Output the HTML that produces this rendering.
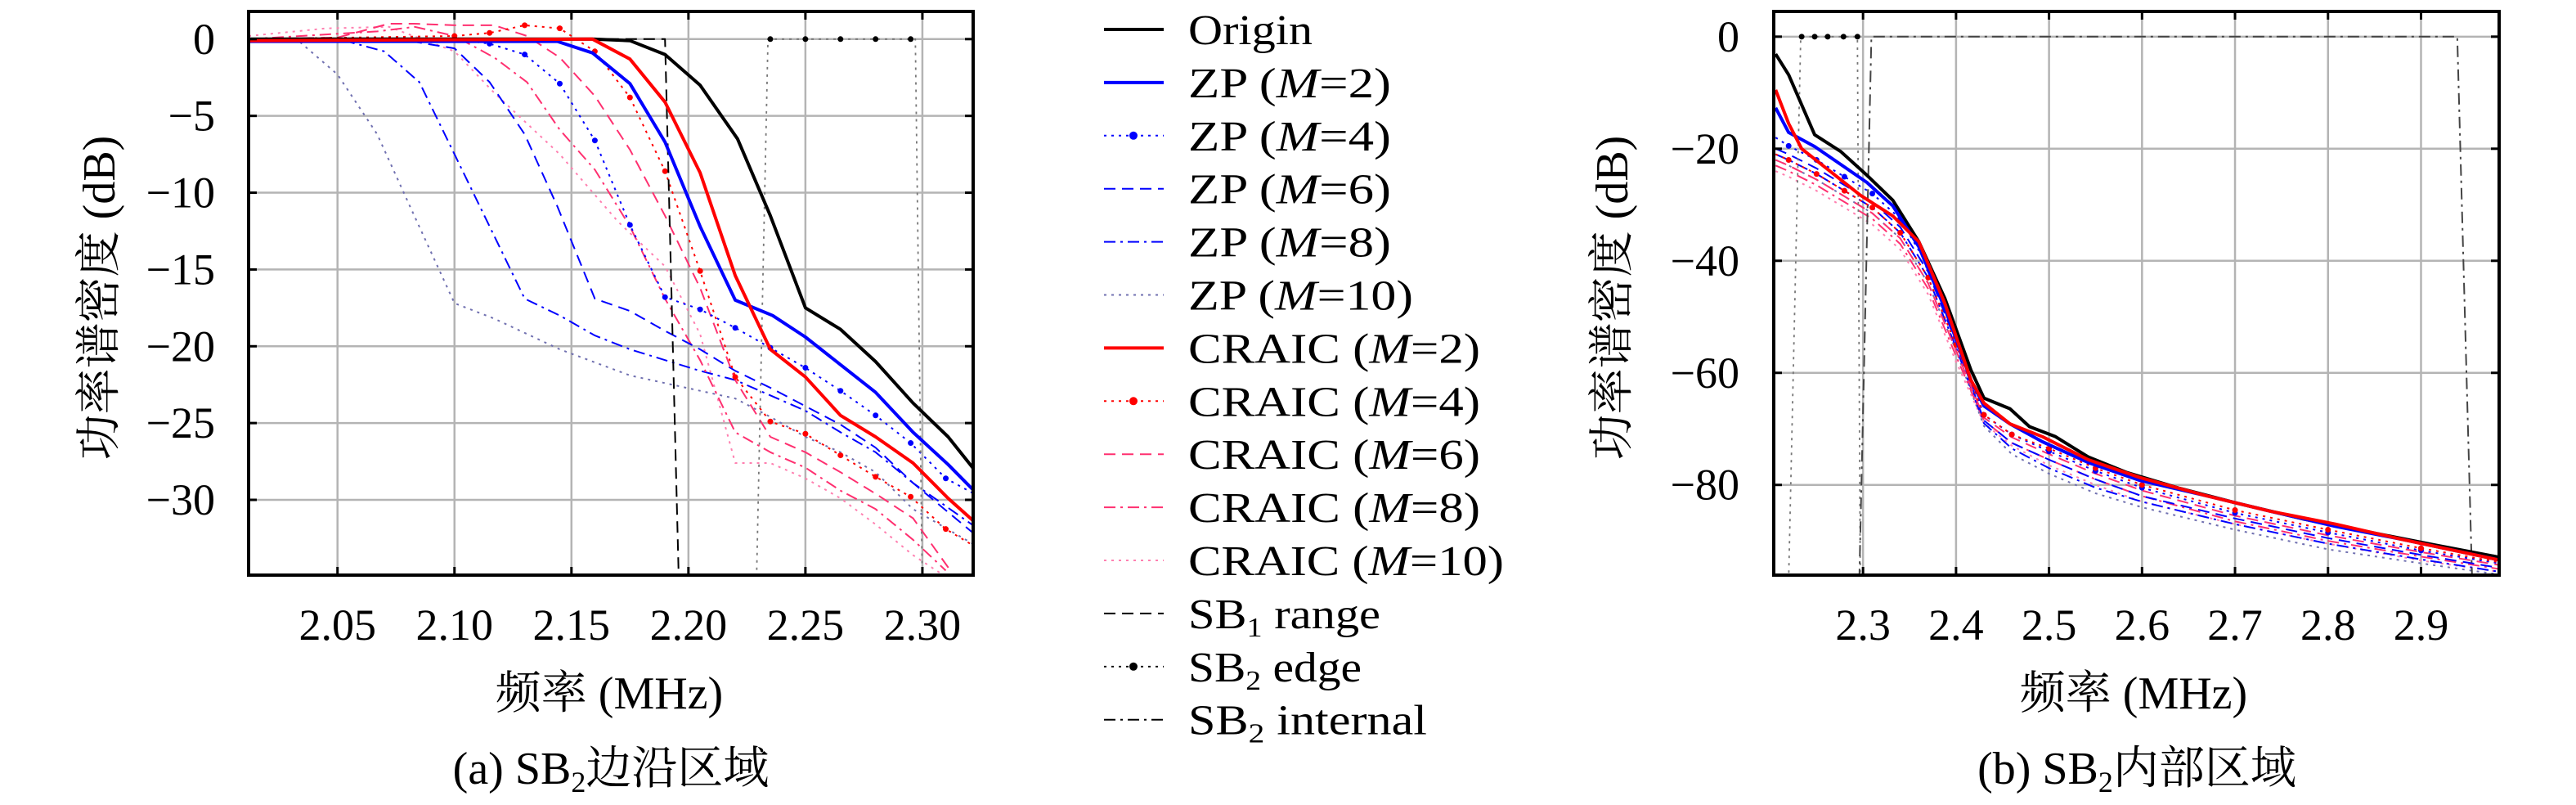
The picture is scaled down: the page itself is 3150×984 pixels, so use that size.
<!DOCTYPE html>
<html><head><meta charset="utf-8">
<style>
html,body{margin:0;padding:0;background:#fff;}
svg{display:block;}
svg text{font-family:"Liberation Serif","DejaVu Serif","Noto Serif CJK SC","Noto Sans CJK SC",serif;}
</style></head>
<body>
<svg id="fig" width="3150" height="984" viewBox="0 0 3150 984" xmlns="http://www.w3.org/2000/svg">
<defs>
<clipPath id="clipA"><rect x="304" y="14" width="886" height="689"/></clipPath>
<clipPath id="clipB"><rect x="2169" y="14" width="887" height="689"/></clipPath>
</defs>
<g id="panelA"></g>
<g id="panelB"></g>
<g id="legend"></g>
</svg>
<script>
const aOriginX=[2.012,2.159,2.175,2.19,2.205,2.221,2.235,2.25,2.265,2.28,2.296,2.311,2.322];
const aOriginY=[0,0,-0.1,-1,-3,-6.5,-11.5,-17.5,-18.9,-21,-23.7,-25.9,-28];
const aZP2X=[2.012,2.144,2.159,2.175,2.19,2.205,2.22,2.236,2.25,2.265,2.28,2.296,2.311,2.322];
const aZP2Y=[-0.15,-0.15,-0.9,-2.9,-6.7,-12.2,-17,-18,-19.4,-21.2,-23,-25.6,-27.7,-29.4];
const aCR2X=[2.012,2.159,2.175,2.19,2.205,2.22,2.235,2.25,2.265,2.28,2.296,2.311,2.322];
const aCR2Y=[-0.1,0,-1.3,-4.1,-8.7,-15.4,-20.2,-22,-24.5,-25.9,-27.6,-29.9,-31.4];
const aZP4X=[2.012,2.1,2.115,2.13,2.145,2.16,2.175,2.19,2.205,2.22,2.235,2.25,2.265,2.28,2.295,2.31,2.322];
const aZP4Y=[0,0,-0.3,-1,-2.9,-6.6,-12.1,-16.8,-17.6,-18.8,-20.1,-21.4,-22.9,-24.5,-26.3,-28.6,-29.6];
const aCR4X=[2.012,2.1,2.115,2.13,2.145,2.16,2.175,2.19,2.205,2.22,2.235,2.25,2.265,2.28,2.295,2.31,2.322];
const aCR4Y=[0,0.2,0.4,0.9,0.7,-0.8,-3.8,-8.6,-15.1,-22,-24.9,-25.7,-27.1,-28.5,-29.8,-31.9,-33];
const aZP6X=[2.012,2.08,2.1,2.115,2.13,2.144,2.16,2.175,2.19,2.205,2.22,2.235,2.25,2.265,2.28,2.296,2.322];
const aZP6Y=[0,-0.1,-0.6,-2.8,-6.2,-10.9,-16.9,-17.7,-19,-20.2,-21.6,-22.7,-23.9,-25.1,-26.6,-28.9,-32.2];
const aZP8X=[2.012,2.053,2.07,2.085,2.1,2.115,2.13,2.145,2.16,2.175,2.19,2.205,2.22,2.235,2.25,2.265,2.28,2.296,2.322];
const aZP8Y=[0,-0.1,-0.8,-2.8,-7.5,-12.2,-16.9,-18,-19.3,-20.2,-20.9,-21.6,-22.2,-23.2,-24.2,-25.6,-26.9,-28.9,-31.7];
const aZP10X=[2.012,2.034,2.05,2.067,2.081,2.1,2.117,2.145,2.175,2.205,2.22,2.235,2.25,2.265,2.28,2.296,2.322];
const aZP10Y=[0,-0.2,-2.3,-6.2,-10.9,-17.2,-18.2,-20.2,-21.9,-22.9,-23.4,-24.6,-25.9,-26.9,-28.2,-30.6,-32.9];
const aCR6X=[2.012,2.05,2.072,2.083,2.1,2.117,2.131,2.145,2.16,2.175,2.19,2.205,2.22,2.235,2.25,2.265,2.28,2.296,2.312];
const aCR6Y=[0,0.1,1,1,0.9,0.9,0.2,-1.2,-3.7,-7.2,-11.5,-16.2,-22.2,-25.9,-26.9,-28.2,-29.6,-31.2,-34.6];
const aCR8X=[2.012,2.067,2.083,2.1,2.117,2.131,2.145,2.16,2.175,2.19,2.205,2.22,2.235,2.25,2.265,2.28,2.296,2.31];
const aCR8Y=[0,0.5,0.8,0.2,-1.2,-2.8,-5.9,-8.5,-12.2,-16.9,-20.9,-25.6,-26.9,-27.9,-29.4,-30.6,-32.6,-34.6];
const aCR10X=[2.012,2.045,2.072,2.1,2.117,2.145,2.17,2.19,2.205,2.22,2.235,2.25,2.265,2.28,2.296,2.31];
const aCR10Y=[0.2,0.7,0.8,-0.8,-3.5,-7.5,-11.9,-14.8,-19.2,-27.6,-27.6,-28.6,-29.9,-31.6,-33.6,-35];
const aSB1X=[2.15,2.19,2.196];
const aSB1Y=[0,0,-36];
const aEdgeX=[2.229,2.234,2.297,2.300];
const aEdgeY=[-36,0,0,-36];
const aEdgeDotX=[2.235,2.25,2.265,2.28,2.295];
const aXTicks=[2.05,2.10,2.15,2.20,2.25,2.30];
const aXTickLabels=["2.05","2.10","2.15","2.20","2.25","2.30"];
const aYTicks=[0,-5,-10,-15,-20,-25,-30];
const aYTickLabels=["0","−5","−10","−15","−20","−25","−30"];
const bOriginX=[2.206,2.22,2.248,2.276,2.304,2.332,2.36,2.388,2.416,2.43,2.458,2.479,2.507,2.542,2.584,2.64,2.703,2.774,2.844,2.914,2.984];
const bOriginY=[-3.1,-6.8,-17.5,-20.5,-24.7,-29.2,-36.6,-46.7,-59.5,-64.5,-66.4,-69.6,-71.4,-75,-77.8,-80.6,-83.3,-86.1,-88.4,-90.7,-92.9];
const bZP2X=[2.206,2.22,2.248,2.276,2.304,2.332,2.36,2.388,2.416,2.43,2.458,2.493,2.542,2.598,2.668,2.738,2.808,2.879,2.984];
const bZP2Y=[-12.7,-17.1,-19.6,-22.8,-26,-30.2,-37.5,-48.5,-61.3,-65.9,-69.1,-72.3,-76,-79.2,-81.9,-84.7,-87.4,-89.7,-93.4];
const bCR2X=[2.206,2.22,2.234,2.262,2.297,2.332,2.36,2.388,2.416,2.43,2.458,2.493,2.542,2.598,2.668,2.738,2.808,2.879,2.984];
const bCR2Y=[-9.5,-15.5,-20,-23.7,-28.3,-32,-36.6,-47.6,-61.3,-65.4,-69.1,-71.4,-75.5,-78.7,-81.9,-84.7,-87,-89.7,-93.4];
const bGridX=[2.206,2.22,2.25,2.28,2.31,2.34,2.37,2.40,2.43,2.46,2.5,2.55,2.6,2.7,2.8,2.9,2.984];
const bZP4Y=[-18,-19.5,-22,-25,-28,-32.5,-41,-53.5,-67.5,-71,-74,-77.5,-80.5,-85,-88.5,-91.7,-94];
const bZP6Y=[-20,-21,-23.5,-26.5,-29.5,-34,-42,-54.5,-68.5,-72.5,-75.5,-79,-82,-86,-89.5,-92.5,-94.8];
const bZP8Y=[-21,-22,-24.5,-27.5,-30.5,-35,-43,-55.5,-69,-73.5,-77,-80.5,-83,-87,-90.5,-93.3,-95.5];
const bZP10Y=[-22,-23,-25.5,-28.5,-31.5,-36,-44,-56,-69.5,-74.5,-78,-81.5,-84,-88,-91.5,-94,-96];
const bCR4Y=[-21,-22,-24.5,-27.5,-30.5,-35,-43,-55,-67.5,-71,-73.5,-77,-80,-84.5,-88,-91.3,-93.8];
const bCR6Y=[-22,-23,-25.5,-28.5,-31.5,-36,-44,-56,-68,-71.5,-74.5,-78,-81,-85.5,-89,-92,-94.3];
const bCR8Y=[-23,-24,-26.5,-29.5,-32.5,-37,-45,-57,-68.5,-72.5,-75.5,-79,-82,-86.5,-90,-92.8,-95];
const bCR10Y=[-24,-25,-27.5,-30.5,-33.5,-38,-46,-58,-69,-73,-76.5,-80,-83,-87,-90.5,-93.5,-95.5];
const bEdgeX=[2.22,2.233,2.294,2.297];
const bEdgeY=[-97,0,0,-97];
const bEdgeDotX=[2.234,2.248,2.262,2.279,2.294];
const bIntX=[2.296,2.309,2.939,2.955];
const bIntY=[-97,0,0,-97];
const bXTicks=[2.3,2.4,2.5,2.6,2.7,2.8,2.9];
const bXTickLabels=["2.3","2.4","2.5","2.6","2.7","2.8","2.9"];
const bYTicks=[0,-20,-40,-60,-80];
const bYTickLabels=["0","−20","−40","−60","−80"];
const legendLabels=["Origin","ZP (M=2)","ZP (M=4)","ZP (M=6)","ZP (M=8)","ZP (M=10)","CRAIC (M=2)","CRAIC (M=4)","CRAIC (M=6)","CRAIC (M=8)","CRAIC (M=10)","SB1 range","SB2 edge","SB2 internal"];

const NS="http://www.w3.org/2000/svg";
const FONT='"Liberation Serif","DejaVu Serif","Noto Serif CJK SC","Noto Sans CJK SC",serif';
function mk(tag,attrs,parent){const e=document.createElementNS(NS,tag);for(const k in attrs)e.setAttribute(k,attrs[k]);if(tag==='text')e.style.fontFamily=FONT;parent.appendChild(e);return e;}
function scale(d0,d1,r0,r1){return v=>r0+(v-d0)*(r1-r0)/(d1-d0);}

const BLUE="#0000ff",RED="#ff0000",PINK="#ff3070",GB="#7070b0",LPINK="#ff80b0";
const styles={
 origin:{c:"#000",w:4,d:""},zp2:{c:BLUE,w:4,d:""},zp4:{c:BLUE,w:2,d:"3,6"},zp6:{c:BLUE,w:2,d:"14,8"},
 zp8:{c:BLUE,w:2,d:"14,6,3,6"},zp10:{c:GB,w:2,d:"3,6"},cr2:{c:RED,w:4,d:""},cr4:{c:RED,w:2,d:"3,6"},
 cr6:{c:PINK,w:2,d:"14,8"},cr8:{c:PINK,w:2,d:"14,6,3,6"},cr10:{c:LPINK,w:2,d:"3,6"},
 sb1:{c:"#000",w:2,d:"14,8"},edge:{c:"#777",w:1.8,d:"3,6"},int:{c:"#444",w:2,d:"14,6,3,6"}
};

function drawPanel(g,o){
 const sx=scale(o.xmin,o.xmax,o.L,o.R), sy=scale(o.ymin,o.ymax,o.B,o.T);
 const grid=mk('g',{},g);
  
 o.xt.forEach(v=>{mk('line',{x1:sx(v),x2:sx(v),y1:o.T,y2:o.B,stroke:"#b4b4b4","stroke-width":2.5},grid);});
 o.yt.forEach(v=>{mk('line',{x1:o.L,x2:o.R,y1:sy(v),y2:sy(v),stroke:"#b4b4b4","stroke-width":2.5},grid);});
 const plot=mk('g',{"clip-path":o.clip},g);
  
 o.series.forEach(s=>{
  const st=styles[s.k];
  const pts=s.x.map((x,i)=>sx(x).toFixed(1)+","+sy(s.y[i]).toFixed(1)).join(" ");
  const p=mk('polyline',{points:pts,fill:"none",stroke:st.c,"stroke-width":st.w,"stroke-dasharray":st.d,"stroke-linejoin":"round"},plot);
  
  
  if(s.dots){s.x.forEach((x,i)=>{if(i>0&&i<s.x.length-1){const c=mk('circle',{cx:sx(x),cy:sy(s.y[i]),r:3.5,fill:st.c},plot);
   
   }});}
  if(s.dotX){s.dotX.forEach(x=>{const c=mk('circle',{cx:sx(x),cy:sy(0),r:3.5,fill:"#000"},plot);
   
   });}
 });
 const fr=mk('rect',{x:o.L,y:o.T,width:o.R-o.L,height:o.B-o.T,fill:"none",stroke:"#000","stroke-width":4},g);
  
 o.xt.forEach((v,i)=>{
  mk('line',{x1:sx(v),x2:sx(v),y1:o.B,y2:o.B-10,stroke:"#000","stroke-width":3},g);
  mk('line',{x1:sx(v),x2:sx(v),y1:o.T,y2:o.T+10,stroke:"#000","stroke-width":3},g);
  const t=mk('text',{x:sx(v),y:782,"text-anchor":"middle","font-size":54},g);t.textContent=o.xl[i];
   
 });
 o.yt.forEach((v,i)=>{
  mk('line',{x1:o.L,x2:o.L+10,y1:sy(v),y2:sy(v),stroke:"#000","stroke-width":3},g);
  mk('line',{x1:o.R,x2:o.R-10,y1:sy(v),y2:sy(v),stroke:"#000","stroke-width":3},g);
  const t=mk('text',{x:o.yLabX,y:sy(v)+18,"text-anchor":"end","font-size":54},g);t.textContent=o.yl[i];
   
 });
 const xt=mk('text',{x:o.xTitleX,y:866,"text-anchor":"middle","font-size":56},g);xt.textContent="频率 (MHz)";
  
 const yt=mk('text',{x:0,y:0,"text-anchor":"middle","font-size":56,transform:`translate(${o.yTitleX},364) rotate(-90)`},g);yt.textContent="功率谱密度 (dB)";
  
 const cap=mk('text',{x:o.capX,y:958,"text-anchor":"middle","font-size":56},g);
 cap.innerHTML=o.cap;
  
}

drawPanel(document.getElementById('panelA'),{
 L:304,R:1190,T:14,B:703,xmin:2.012,xmax:2.3217,ymin:-34.9,ymax:1.8,clip:"url(#clipA)",
 xt:aXTicks,xl:aXTickLabels,yt:aYTicks,yl:aYTickLabels,yLabX:263,yTitleX:140,xTitleX:745,capX:747,
 cap:'(a) SB<tspan font-size="36" dy="10">2</tspan><tspan dy="-10">边沿区域</tspan>',
 series:[
  {k:"zp10",x:aZP10X,y:aZP10Y},{k:"cr10",x:aCR10X,y:aCR10Y},{k:"zp8",x:aZP8X,y:aZP8Y},{k:"cr8",x:aCR8X,y:aCR8Y},
  {k:"zp6",x:aZP6X,y:aZP6Y},{k:"cr6",x:aCR6X,y:aCR6Y},{k:"zp4",x:aZP4X,y:aZP4Y,dots:true},{k:"cr4",x:aCR4X,y:aCR4Y,dots:true},
  {k:"sb1",x:aSB1X,y:aSB1Y},{k:"edge",x:aEdgeX,y:aEdgeY,dotX:aEdgeDotX},
  {k:"origin",x:aOriginX,y:aOriginY},{k:"zp2",x:aZP2X,y:aZP2Y},{k:"cr2",x:aCR2X,y:aCR2Y}
 ]});
drawPanel(document.getElementById('panelB'),{
 L:2169,R:3056,T:14,B:703,xmin:2.204,xmax:2.984,ymin:-96.1,ymax:4.5,clip:"url(#clipB)",
 xt:bXTicks,xl:bXTickLabels,yt:bYTicks,yl:bYTickLabels,yLabX:2127,yTitleX:1990,xTitleX:2609,capX:2613,
 cap:'(b) SB<tspan font-size="36" dy="10">2</tspan><tspan dy="-10">内部区域</tspan>',
 series:[
  {k:"zp10",x:bGridX,y:bZP10Y},{k:"cr10",x:bGridX,y:bCR10Y},{k:"zp8",x:bGridX,y:bZP8Y},{k:"cr8",x:bGridX,y:bCR8Y},
  {k:"zp6",x:bGridX,y:bZP6Y},{k:"cr6",x:bGridX,y:bCR6Y},{k:"zp4",x:bGridX,y:bZP4Y,dots:true},{k:"cr4",x:bGridX,y:bCR4Y,dots:true},
  {k:"edge",x:bEdgeX,y:bEdgeY,dotX:bEdgeDotX},{k:"int",x:bIntX,y:bIntY},
  {k:"origin",x:bOriginX,y:bOriginY},{k:"zp2",x:bZP2X,y:bZP2Y},{k:"cr2",x:bCR2X,y:bCR2Y}
 ]});

const lg=document.getElementById('legend');
const keys=["origin","zp2","zp4","zp6","zp8","zp10","cr2","cr4","cr6","cr8","cr10","sb1","edge","int"];
const lens=[152,248,248,248,248,275,357,357,357,357,386,235,212,292];
legendLabels.forEach((lab,i)=>{
 const y=36+64.9*i, st=styles[keys[i]];
 const e=mk('g',{},lg);
 
 
 mk('line',{x1:1350,x2:1423,y1:y,y2:y,stroke:(keys[i]==="edge"||keys[i]==="int")?"#000":st.c,"stroke-width":st.w,"stroke-dasharray":st.d},e);
 if(keys[i]==="zp4"||keys[i]==="cr4"||keys[i]==="edge")mk('circle',{cx:1386,cy:y,r:5,fill:keys[i]==="edge"?"#000":st.c},e);
 const t=mk('text',{x:1453,y:y+18,"font-size":52,textLength:lens[i],lengthAdjust:"spacingAndGlyphs"},e);
 let m=lab.match(/^(.*)\(M=(\d+)\)$/);
 if(m){t.innerHTML=m[1]+'(<tspan font-style="italic">M</tspan>=' + m[2] + ')';}
 else if(lab.startsWith("SB")){t.innerHTML='SB<tspan font-size="34" dy="10">'+lab[2]+'</tspan><tspan dy="-10">'+lab.slice(3)+'</tspan>';}
 else t.textContent=lab;
});
</script>
</body></html>
